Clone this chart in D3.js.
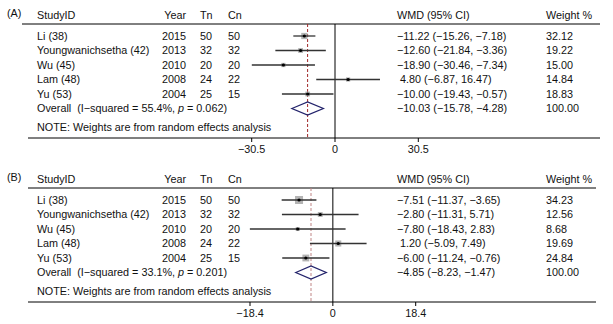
<!DOCTYPE html>
<html>
<head>
<meta charset="utf-8">
<script src="https://cdn.jsdelivr.net/npm/d3@7"></script>
<style>
  body { margin: 0; background: #fff; }
  svg text { font-family: "Liberation Sans", Arial, sans-serif; font-size: 10.8px; fill: #111; white-space: pre; }
</style>
</head>
<body>
<svg id="chart"></svg>
<script>
const width = 613;
const height = 324;

// shared study columns
const studies = ["Li (38)", "Youngwanichsetha (42)", "Wu (45)", "Lam (48)", "Yu (53)"];
const years = [2015, 2013, 2010, 2008, 2004];
const tn = [50, 32, 20, 24, 25];
const cn = [50, 32, 20, 22, 15];

// panel A
const wmdA = [-11.22, -12.60, -18.90, 4.80, -10.00];
const lowA = [-15.26, -21.84, -30.46, -6.87, -19.43];
const highA = [-7.18, -3.36, -7.34, 16.47, -0.57];
const weightA = [32.12, 19.22, 15.00, 14.84, 18.83];
const overallA = [-10.03, -15.78, -4.28];
const hetA = ["55.4%", "0.062"];
const ticksA = [-30.5, 0, 30.5];

// panel B
const wmdB = [-7.51, -2.80, -7.80, 1.20, -6.00];
const lowB = [-11.37, -11.31, -18.43, -5.09, -11.24];
const highB = [-3.65, 5.71, 2.83, 7.49, -0.76];
const weightB = [34.23, 12.56, 8.68, 19.69, 24.84];
const overallB = [-4.85, -8.23, -1.47];
const hetB = ["33.1%", "0.201"];
const ticksB = [-18.4, 0, 18.4];

const svg = d3.select('#chart').attr('width', width).attr('height', height);

const fmt = v => v.toFixed(2).replace('-', '\u2212');
const tickFmt = v => String(v).replace('-', '\u2212');

function drawPanel(opt) {
  const g = svg.append('g').attr('transform', `translate(0,${opt.top})`);
  const x = d3.scaleLinear().domain([opt.ticks[0], opt.ticks[2]]).range(opt.xr);
  const box = d3.scaleSqrt().domain([0, 100]).range([0, opt.boxMax]);
  const rowY = i => 36 + i * 14.5;
  const overY = rowY(5);
  const bottom = 138;

  g.append('text').attr('x', 7).attr('y', 13).attr('dy', '0.35em').text(opt.label);

  // header
  const head = g.append('g');
  head.append('text').attr('x', 37).attr('y', 15).attr('dy', '0.35em').text('StudyID');
  head.append('text').attr('x', 186).attr('y', 15).attr('dy', '0.35em').attr('text-anchor', 'end').text('Year');
  head.append('text').attr('x', 200).attr('y', 15).attr('dy', '0.35em').text('Tn');
  head.append('text').attr('x', 228).attr('y', 15).attr('dy', '0.35em').text('Cn');
  head.append('text').attr('x', 397).attr('y', 15).attr('dy', '0.35em').text('WMD (95% CI)');
  head.append('text').attr('x', 546).attr('y', 15).attr('dy', '0.35em').text('Weight %');

  g.append('line').attr('x1', opt.headX).attr('x2', opt.right).attr('y1', 24).attr('y2', 24)
    .attr('stroke', '#000').attr('stroke-width', 1);
  g.append('line').attr('x1', 28).attr('x2', opt.right).attr('y1', bottom).attr('y2', bottom)
    .attr('stroke', '#000').attr('stroke-width', 1);

  // zero line and pooled estimate
  g.append('line').attr('x1', x(0)).attr('x2', x(0)).attr('y1', 24).attr('y2', bottom)
    .attr('stroke', '#000').attr('stroke-width', 1);
  g.append('line').attr('x1', x(opt.overall[0])).attr('x2', x(opt.overall[0])).attr('y1', 24).attr('y2', bottom)
    .attr('stroke', opt.dashColor).attr('stroke-width', 1).attr('stroke-dasharray', '3,2');

  // ticks
  const ax = g.append('g').attr('transform', `translate(0,${bottom})`);
  ax.selectAll('line').data(opt.ticks).enter().append('line')
    .attr('x1', d => x(d)).attr('x2', d => x(d)).attr('y1', 0).attr('y2', 4)
    .attr('stroke', '#000');
  ax.selectAll('text').data(opt.ticks).enter().append('text')
    .attr('x', d => x(d)).attr('y', 15).attr('text-anchor', 'middle').text(tickFmt);

  // study rows
  const rows = g.selectAll('.row').data(studies).enter().append('g').attr('class', 'row');
  rows.append('text').attr('x', 37).attr('y', (d, i) => rowY(i)).attr('dy', '0.35em').text(d => d);
  rows.append('text').attr('x', 186).attr('y', (d, i) => rowY(i)).attr('dy', '0.35em').attr('text-anchor', 'end').text((d, i) => years[i]);
  rows.append('text').attr('x', 200).attr('y', (d, i) => rowY(i)).attr('dy', '0.35em').text((d, i) => tn[i]);
  rows.append('text').attr('x', 228).attr('y', (d, i) => rowY(i)).attr('dy', '0.35em').text((d, i) => cn[i]);
  rows.append('text').attr('x', (d, i) => opt.wmd[i] < 0 ? 397 : 400).attr('y', (d, i) => rowY(i)).attr('dy', '0.35em')
    .text((d, i) => `${fmt(opt.wmd[i])} (${fmt(opt.low[i])}, ${fmt(opt.high[i])})`);
  rows.append('text').attr('x', 546).attr('y', (d, i) => rowY(i)).attr('dy', '0.35em').text((d, i) => opt.weight[i].toFixed(2));

  rows.append('rect')
    .attr('x', (d, i) => x(opt.wmd[i]) - box(opt.weight[i]) / 2)
    .attr('y', (d, i) => rowY(i) - box(opt.weight[i]) / 2)
    .attr('width', (d, i) => box(opt.weight[i]))
    .attr('height', (d, i) => box(opt.weight[i]))
    .attr('fill', '#b4b4b4');
  rows.append('line')
    .attr('x1', (d, i) => x(opt.low[i])).attr('x2', (d, i) => x(opt.high[i]))
    .attr('y1', (d, i) => rowY(i)).attr('y2', (d, i) => rowY(i))
    .attr('stroke', '#333').attr('stroke-width', 1.3);
  rows.append('circle')
    .attr('cx', (d, i) => x(opt.wmd[i])).attr('cy', (d, i) => rowY(i)).attr('r', 1.6)
    .attr('fill', '#000');

  // overall
  const ov = g.append('text').attr('x', 37).attr('y', overY).attr('dy', '0.35em');
  ov.append('tspan').text(`Overall  (I\u2212squared = ${opt.het[0]}, `);
  ov.append('tspan').attr('font-style', 'italic').text('p');
  ov.append('tspan').text(` = ${opt.het[1]})`);
  g.append('text').attr('x', 397).attr('y', overY).attr('dy', '0.35em')
    .text(`${fmt(opt.overall[0])} (${fmt(opt.overall[1])}, ${fmt(opt.overall[2])})`);
  g.append('text').attr('x', 546).attr('y', overY).attr('dy', '0.35em').text('100.00');

  const dh = 6.5;
  g.append('path')
    .attr('d', `M${x(opt.overall[1])},${overY} L${x(opt.overall[0])},${overY - dh} L${x(opt.overall[2])},${overY} L${x(opt.overall[0])},${overY + dh} Z`)
    .attr('fill', 'none').attr('stroke', '#23236b').attr('stroke-width', 1.3);

  g.append('text').attr('x', 37).attr('y', 127.5).attr('dy', '0.35em')
    .text('NOTE: Weights are from random effects analysis');
}

drawPanel({
  label: '(A)', top: 0, xr: [251.7, 418.3], ticks: ticksA, headX: 22, right: 600,
  wmd: wmdA, low: lowA, high: highA, weight: weightA, overall: overallA, het: hetA,
  boxMax: 11, dashColor: '#a02828'
});
drawPanel({
  label: '(B)', top: 164, xr: [250, 415.7], ticks: ticksB, headX: 28, right: 596,
  wmd: wmdB, low: lowB, high: highB, weight: weightB, overall: overallB, het: hetB,
  boxMax: 13.7, dashColor: '#c08585'
});
</script>
</body>
</html>
